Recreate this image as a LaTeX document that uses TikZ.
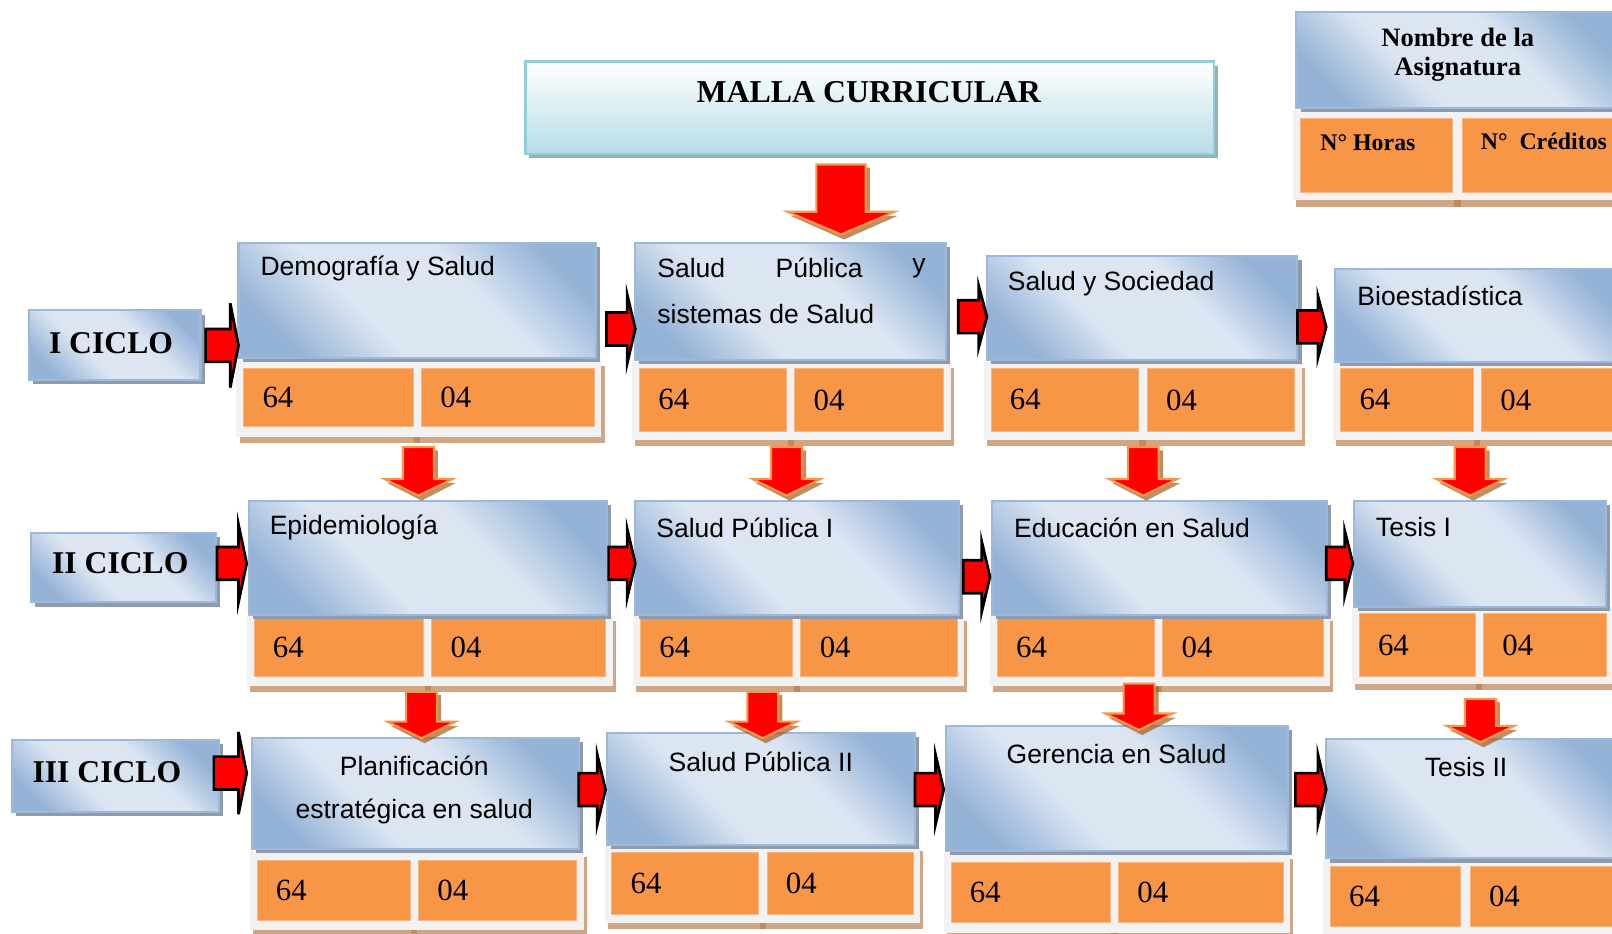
\documentclass[tikz,border=0pt]{standalone}
\usepackage{fontspec}
\setmainfont{Liberation Serif}
\newfontfamily\arialf{Liberation Sans}
\usetikzlibrary{fit,calc}
\definecolor{bL}{HTML}{DCE6F2}
\definecolor{bD}{HTML}{95B3D7}
\definecolor{bBrd}{HTML}{9DB8DA}
\definecolor{shG}{HTML}{8E9BAE}
\definecolor{panelC}{HTML}{F2F2F2}
\definecolor{orC}{HTML}{F79646}
\definecolor{orB}{HTML}{F9B485}
\definecolor{brSh}{HTML}{D0A684}
\definecolor{brMid}{HTML}{C08A5E}
\definecolor{tBot}{HTML}{B7DDE8}
\definecolor{tBrd}{HTML}{92CDDC}
\definecolor{tSh}{HTML}{9AAFB5}
\definecolor{arrOr}{HTML}{F79646}
\definecolor{arrSh}{HTML}{A0520F}
\pgfdeclarehorizontalshading{bluegrad}{100bp}{color(0bp)=(bD); color(24bp)=(bD); color(40bp)=(bL); color(60bp)=(bL); color(76bp)=(bD); color(100bp)=(bD)}
\tikzset{
  coursebox/.style={draw=bBrd, line width=1pt, shading=bluegrad, shading angle=45, inner sep=0},
  panelbox/.style={fill=panelC, inner sep=0},
  cellbox/.style={fill=orC, draw=orB, line width=0.4pt, inner sep=0},
  titlebox/.style={draw=tBrd, line width=1.2pt, top color=white, bottom color=tBot, inner sep=0},
  ctext/.style={font=\arialf\fontsize{12.9}{15}\selectfont, inner sep=0},
  ntext/.style={font=\fontsize{15}{18}\selectfont, inner sep=0, anchor=west},
  cictext/.style={font=\bfseries\fontsize{15.4}{18}\selectfont, inner sep=0},
  legtext/.style={font=\bfseries\fontsize{12.9}{15}\selectfont, inner sep=0},
  legsmall/.style={font=\bfseries\fontsize{11.6}{14}\selectfont, inner sep=0, anchor=west},
  rarrow/.style={fill=red, draw=black, line width=1.3pt, line join=miter},
  darrow/.style={fill=red, draw=arrOr, line width=1pt, line join=miter},
  darrowsh/.style={fill=arrSh, opacity=0.65},
}
% blue course box: name, x1, y1, x2, y2
\newcommand\bluebox[5]{%
  \fill[shG] (#2+4,#3+4) rectangle (#4+4,#5+4);
  \node[coursebox, fit={(#2,#3)(#4,#5)}] (#1) {};
}
% empty panel: name, px1, py1, px2, py2, cy1, cy2, gapL, gapR
\newcommand\emptypanel[9]{%
  \fill[brSh] (#2+3,#3+6) rectangle (#4+3,#5+6);
  \fill[brMid] (#8+1,#5) rectangle (#9-1,#5+6);
  \node[panelbox, fit={(#2,#3)(#4,#5)}] (#1) {};
  \node[cellbox, fit={(#2+7,#6)(#8,#7)}] (#1h) {};
  \node[cellbox, fit={(#9,#6)(#4-7,#7)}] (#1c) {};
}
% panel with numbers
\newcommand\numpanel[9]{%
  \emptypanel{#1}{#2}{#3}{#4}{#5}{#6}{#7}{#8}{#9}
  \node[ntext] (#1hn) at (#2+25,{(#6+#7)/2}) {64};
  \node[ntext] (#1cn) at (#9+18,{(#6+#7)/2}) {04};
}
% right block arrow: xs, xe, yc, head half height
\newcommand\rarr[4]{%
  \filldraw[rarrow] (#1,#3-16) -- (#2-8,#3-16) -- (#2-8,#3-#4) -- (#2,#3) -- (#2-8,#3+#4) -- (#2-8,#3+16) -- (#1,#3+16) -- cycle;
}
% down block arrow: xc, ytop, ytip, headhalf, shafthalf, headlen
\newcommand\darr[6]{%
  \fill[darrowsh] (#1-#5+4,#2+3) -- (#1+#5+4,#2+3) -- (#1+#5+4,#3-#6+4) -- (#1+#4+3,#3-#6+4) -- (#1+3,#3+5) -- (#1-#4+3,#3-#6+4) -- (#1-#5+4,#3-#6+4) -- cycle;
  \filldraw[darrow] (#1-#5,#2) -- (#1+#5,#2) -- (#1+#5,#3-#6) -- (#1+#4,#3-#6) -- (#1,#3) -- (#1-#4,#3-#6) -- (#1-#5,#3-#6) -- cycle;
}
\begin{document}
\begin{tikzpicture}[x=0.5pt,y=-0.5pt]
\useasboundingbox (0,0) rectangle (1568,908);
\clip (0,0) rectangle (1568,908);
\fill[white] (0,0) rectangle (1568,908);

% Title
\fill[tSh] (515,64) rectangle (1185,154);
\node[titlebox, fit={(511,60)(1181,150)}] (title) {};
\node[font=\bfseries\fontsize{15.5}{18}\selectfont, inner sep=0] (titlet) at (845,90) {MALLA CURRICULAR};
\darr{818}{160}{228}{52}{24}{22}

% Legend
\emptypanel{leg}{1258}{107}{1580}{195}{115}{187}{1413}{1422}
\bluebox{legb}{1261}{12}{1580}{105}
\node[legtext, align=center] (legt) at (1418,53) {Nombre de la\\[-1pt]Asignatura};
\node[legsmall] (leght) at (1284,139) {N° Horas};
\node[legsmall] (legct) at (1440,137) {N°\ \ Créditos};

% Ciclo boxes
\bluebox{c1}{28}{302}{195}{370}
\node[cictext] (c1t) at (108,334) {I CICLO};
\bluebox{c2}{30}{518}{210}{586}
\node[cictext] (c2t) at (117,548) {II CICLO};
\bluebox{c3}{12}{720}{213}{790}
\node[cictext] (c3t) at (104,751) {III CICLO};

% Row I
\numpanel{p11}{230}{350}{585}{425}{358}{415}{402}{410}
\bluebox{b11}{232}{236}{580}{348}
\node[ctext, anchor=west] (t11) at (253,261) {Demografía y Salud};

\numpanel{p12}{615}{352}{925}{428}{358}{420}{765}{773}
\bluebox{b12}{618}{236}{920}{350}
\node[ctext, anchor=west] (t12a) at (639,261) {Salud};
\node[ctext, anchor=west] (t12b) at (754,261) {Pública};
\node[ctext, anchor=west] (t12c) at (887,261) {y};
\node[ctext, anchor=west] (t12d) at (639,305) {sistemas de Salud};

\numpanel{p13}{957}{352}{1266}{428}{358}{420}{1107}{1116}
\bluebox{b13}{960}{249}{1262}{350}
\node[ctext, anchor=west] (t13) at (980,276) {Salud y Sociedad};

\numpanel{p14}{1297}{352}{1580}{428}{358}{420}{1433}{1441}
\bluebox{b14}{1299}{262}{1580}{352}
\node[ctext, anchor=west] (t14) at (1320,288) {Bioestadística};

\rarr{200}{232}{336}{41}
\rarr{590}{618}{320}{34}
\rarr{932}{960}{308}{30}
\rarr{1262}{1290}{318}{30}

% Row II
\numpanel{p21}{240}{598}{596}{667}{602}{658}{412}{420}
\bluebox{b21}{242}{487}{590}{598}
\node[ctext, anchor=west] (t21) at (262,513) {Epidemiología};

\numpanel{p22}{616}{598}{938}{667}{602}{658}{771}{779}
\bluebox{b22}{618}{487}{933}{598}
\node[ctext, anchor=west] (t22) at (638,513) {Salud Pública I};

\numpanel{p23}{963}{598}{1294}{667}{602}{658}{1123}{1131}
\bluebox{b23}{965}{487}{1291}{598}
\node[ctext, anchor=west] (t23) at (986,513) {Educación en Salud};

\numpanel{p24}{1315}{590}{1570}{665}{597}{658}{1435}{1443}
\bluebox{b24}{1317}{487}{1562}{590}
\node[ctext, anchor=west] (t24) at (1338,513) {Tesis I};

\rarr{211}{240}{548}{38}
\rarr{592}{618}{548}{34}
\rarr{937}{963}{561}{34}
\rarr{1290}{1316}{548}{32}

% Row III
\numpanel{p31}{243}{828}{568}{905}{837}{895}{399}{407}
\bluebox{b31}{245}{718}{563}{826}
\node[ctext] (t31a) at (403,745) {Planificación};
\node[ctext] (t31b) at (403,789) {estratégica en salud};

\numpanel{p32}{588}{822}{895}{898}{829}{889}{738}{746}
\bluebox{b32}{590}{713}{890}{822}
\node[ctext] (t32) at (740,741) {Salud Pública II};

\numpanel{p33}{918}{830}{1255}{908}{839}{897}{1080}{1088}
\bluebox{b33}{920}{706}{1253}{828}
\node[ctext] (t33) at (1086,733) {Gerencia en Salud};

\numpanel{p34}{1287}{835}{1575}{910}{843}{901}{1421}{1430}
\bluebox{b34}{1290}{719}{1580}{835}
\node[ctext] (t34) at (1426,746) {Tesis II};

\rarr{208}{240}{752}{40}
\rarr{563}{589}{768}{34}
\rarr{890}{918}{768}{34}
\rarr{1260}{1290}{768}{34}

% Down arrows
\darr{407}{435}{482}{33}{15}{16}
\darr{765}{435}{482}{33}{15}{16}
\darr{1112}{435}{482}{33}{15}{16}
\darr{1430}{435}{482}{33}{15}{16}
\darr{410}{673}{718}{33}{15}{16}
\darr{742}{673}{718}{33}{15}{16}
\darr{1108}{665}{710}{33}{15}{16}
\darr{1440}{680}{722}{33}{15}{16}
\end{tikzpicture}
\end{document}
